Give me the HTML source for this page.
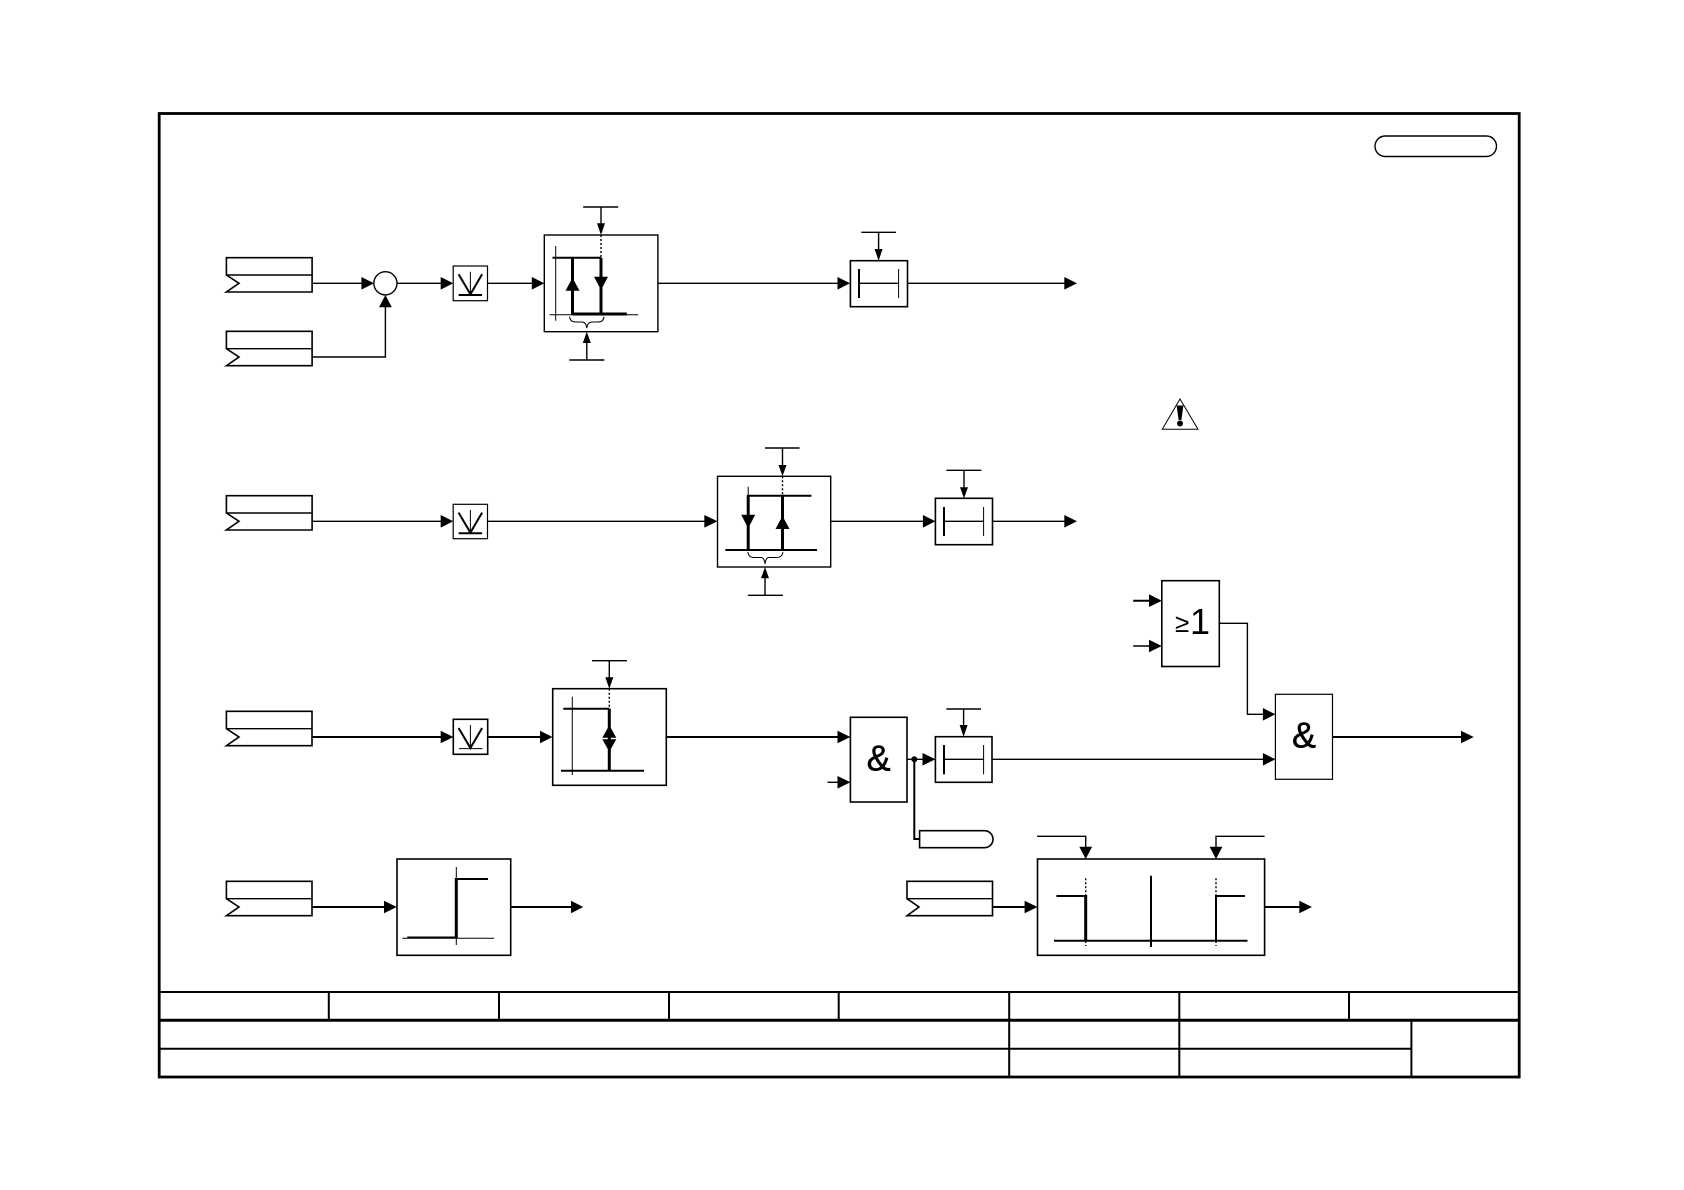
<!DOCTYPE html>
<html><head><meta charset="utf-8"><style>
html,body{margin:0;padding:0;background:#fff;width:1684px;height:1190px;overflow:hidden}
svg{display:block}
text{font-family:"Liberation Sans",Arial,Helvetica,sans-serif;fill:#000}
.l{stroke:#000;stroke-width:1.4;fill:none}
.m{stroke:#000;stroke-width:2;fill:none}
.t{stroke:#000;stroke-width:3;fill:none}
.h{stroke:#000;stroke-width:1;fill:none}
.d{stroke:#000;stroke-width:1.4;stroke-dasharray:2 2;fill:none}
.b{stroke:#000;stroke-width:1.6;fill:#fff}
.g{stroke:#000;stroke-width:.5}
</style></head><body>
<svg width="1684" height="1190" viewBox="0 0 1684 1190" xmlns="http://www.w3.org/2000/svg">
<rect width="1684" height="1190" fill="#fff"/>
<!-- frame -->
<rect x="159.2" y="113.5" width="1360" height="963.5" fill="none" stroke="#000" stroke-width="2.8"/>
<path class="m" d="M159 992H1519M159 1048.7H1411.4"/>
<path class="t" d="M159 1020.3H1519"/>
<path class="m" d="M328.8 992V1020M499 992V1020M669 992V1020M838.7 992V1020M1009.2 992V1077M1179.3 992V1077M1349 992V1020M1411.4 1020V1077"/>
<!-- pill -->
<rect x="1375" y="136" width="121.5" height="20.5" rx="10.2" fill="none" stroke="#000" stroke-width="1.4"/>
<!-- warning -->
<polygon points="1180,399 1162.3,429.3 1198,429.3" fill="none" stroke="#000" stroke-width="1"/>
<polygon points="1176.6,405.5 1183.4,405.5 1181.4,420 1178.6,420" fill="#000"/>
<circle cx="1180" cy="423.5" r="3" fill="#000"/>

<!-- ROW 1 -->
<path class="b" d="M226.4 257.7H312.1V292H226.4L239 283.3L226.4 275Z"/>
<path class="l" d="M226.4 275H312.1"/>
<path class="b" d="M226.4 331.3H312.1V365.7H226.4L239 357L226.4 348.7Z"/>
<path class="l" d="M226.4 348.7H312.1"/>
<path class="l" d="M312 283.3H362M312 357H385.4V306"/>
<polygon points="374,283.3 361.4,277 361.4,289.6" fill="#000"/>
<polygon points="385.4,295 379,307.3 391.8,307.3" fill="#000"/>
<circle cx="385.4" cy="283.3" r="11.6" fill="#fff" stroke="#000" stroke-width="1.4"/>
<path class="l" d="M397 283.3H442"/>
<polygon points="453.2,283.3 440.7,277 440.7,289.6" fill="#000"/>
<rect class="b" x="453.2" y="266" width="34.3" height="34.7" style="stroke-width:1.2"/>
<path class="m" d="M458.6 274.3L470.4 294.3L482.1 274.3M458.6 295H482.1"/>
<path class="h" d="M470.4 271.7V294"/>
<path class="l" d="M487.5 283.3H533"/>
<polygon points="544.3,283.3 531.8,277 531.8,289.6" fill="#000"/>
<rect class="b" x="544.3" y="235" width="113.6" height="96.7" style="stroke-width:1.4"/>
<path class="l" d="M583.2 207H618.2M601 207V224"/>
<polygon points="601,235 597,223.3 605,223.3" fill="#000"/>
<path class="d" d="M601 235V257"/>
<path class="h" d="M555.7 246V320.7M549.6 314.7H638.2"/>
<path class="m" d="M552.5 257.7H601"/>
<path class="t" d="M572.5 257.7V314.3M601 257.7V314.3M572.5 314H626.8"/>
<polygon points="572.5,277.7 565.5,290.7 579.5,290.7" fill="#000"/>
<polygon points="601,290 594,276.7 608,276.7" fill="#000"/>
<path class="h" d="M569.6 316.7Q570 322 576 322H582Q586 322 586.8 328Q587.6 322 592 322H598Q603.6 322 604 316.7"/>
<path class="l" d="M569.3 360H604.3M586.8 360V342"/>
<polygon points="586.8,331.7 582.8,343 590.8,343" fill="#000"/>
<path class="l" d="M657.9 283.3H839"/>
<polygon points="850,283.3 837.5,277 837.5,289.6" fill="#000"/>
<rect class="b" x="850.4" y="260.7" width="57.1" height="46"/>
<path class="m" d="M859 269V298"/>
<path class="h" d="M898.6 269V298"/>
<path class="l" d="M859 283.3H898.6"/>
<path class="l" d="M861.4 232.3H896M878.6 232.3V250"/>
<polygon points="878.6,260.7 874.6,249 882.6,249" fill="#000"/>
<path class="l" d="M907.5 283.3H1066"/>
<polygon points="1077,283.3 1064.3,277 1064.3,289.6" fill="#000"/>

<!-- ROW 2 -->
<path class="b" d="M226.4 495.7H312.1V530H226.4L239 521.3L226.4 513Z"/>
<path class="l" d="M226.4 513H312.1"/>
<path class="l" d="M312 521.3H442"/>
<polygon points="453.2,521.3 440.7,515 440.7,527.6" fill="#000"/>
<rect class="b" x="453.2" y="504.3" width="34.3" height="34.4" style="stroke-width:1.2"/>
<path class="m" d="M458.6 512.6L470.4 532.6L482.1 512.6M458.6 533.3H482.1"/>
<path class="h" d="M470.4 510V532"/>
<path class="l" d="M487.5 521.3H706"/>
<polygon points="717.5,521.3 704.3,515 704.3,527.6" fill="#000"/>
<rect class="b" x="717.5" y="476.3" width="113.2" height="90.7" style="stroke-width:1.4"/>
<path class="l" d="M765 448H799.6M782.5 448V466"/>
<polygon points="782.5,476.3 778.5,465 786.5,465" fill="#000"/>
<path class="d" d="M782.5 476.3V495.7"/>
<path class="h" d="M748.2 486.7V496"/>
<path class="m" d="M748.2 495.7H811.4M725.4 550H817"/>
<path class="t" d="M748.2 495V550M782.5 495V550"/>
<polygon points="748.2,528.3 741.2,514.7 755.2,514.7" fill="#000"/>
<polygon points="782.5,516 775.5,529 789.5,529" fill="#000"/>
<path class="h" d="M747.9 552Q748.4 557.5 754 557.5H761Q764.2 557.5 765 564Q765.8 557.5 769 557.5H776Q782.4 557.5 782.9 552"/>
<path class="l" d="M747.9 595.3H782.9M765 595.3V577"/>
<polygon points="765,567 761,578.3 769,578.3" fill="#000"/>
<path class="l" d="M830.7 521.3H924"/>
<polygon points="935.4,521.3 922.9,515 922.9,527.6" fill="#000"/>
<rect class="b" x="935.4" y="498.3" width="57.1" height="46.4"/>
<path class="m" d="M944 507V536"/>
<path class="h" d="M983.6 507V536"/>
<path class="l" d="M944 521.3H983.6"/>
<path class="l" d="M946.4 470.3H981.4M964 470.3V488"/>
<polygon points="964,498.3 960,487.3 968,487.3" fill="#000"/>
<path class="l" d="M992.5 521.3H1066"/>
<polygon points="1077,521.3 1064.3,515 1064.3,527.6" fill="#000"/>

<!-- >=1 -->
<path class="m" d="M1133.2 600.7H1150"/>
<path class="l" d="M1133.2 646H1150"/>
<polygon points="1161.8,600.7 1149,594.3 1149,607" fill="#000"/>
<polygon points="1161.8,646 1149,639.7 1149,652.3" fill="#000"/>
<rect class="b" x="1161.8" y="580.7" width="57.5" height="85.8"/>
<text x="1175" y="632" font-size="26">≥</text>
<text x="1190" y="634" font-size="36">1</text>
<path class="l" d="M1219.3 623.3H1247.4V714.3H1264"/>
<polygon points="1275.4,714.3 1262.9,708 1262.9,720.6" fill="#000"/>

<!-- ROW 3 -->
<path class="b" d="M226.4 711.3H312V745.7H226.4L239 737L226.4 728.7Z"/>
<path class="l" d="M226.4 728.7H312"/>
<path class="m" d="M312 737H442"/>
<polygon points="453.3,737 440.7,730.7 440.7,743.3" fill="#000"/>
<rect class="b" x="453.3" y="719.3" width="34.4" height="35"/>
<path class="m" d="M458.6 728L470.4 748L482.1 728"/>
<path class="h" d="M470.4 725V748M459 748.6H482.5"/>
<path class="m" d="M487.7 737H542"/>
<polygon points="552.5,737 540,730.7 540,743.3" fill="#000"/>
<rect class="b" x="552.7" y="688.7" width="113.6" height="96.6"/>
<path class="l" d="M592 660.7H627M609.3 660.7V678"/>
<polygon points="609.3,688.7 605.3,677.3 613.3,677.3" fill="#000"/>
<path class="d" d="M609.3 688.7V708.7"/>
<path class="m" d="M563.3 708.7H609.3M561 770.7H644"/>
<path class="h" d="M572.3 696.7V775"/>
<path class="t" d="M609.3 708.7V770.7"/>
<polygon points="609.3,725.3 602.3,737.7 616.3,737.7" fill="#000"/>
<polygon points="609.3,751.7 602.3,739.3 616.3,739.3" fill="#000"/>
<path class="m" d="M666.3 737H839"/>
<polygon points="850.4,737 837.5,730.7 837.5,743.3" fill="#000"/>
<path class="l" d="M827.5 782.3H840"/>
<polygon points="850.4,782.3 837.5,776 837.5,788.6" fill="#000"/>
<rect class="b" x="850.4" y="717.3" width="56.6" height="84.7"/>
<text class="g" x="878.6" y="770.5" font-size="36" text-anchor="middle">&amp;</text>
<path class="l" d="M907 759.3H924"/>
<circle cx="914.3" cy="759.3" r="3" fill="#000"/>
<polygon points="935.4,759.3 922.5,753 922.5,765.6" fill="#000"/>
<path class="m" d="M914.3 759.3V839H920"/>
<path class="b" d="M919.6 830.7H984.5A8.5 8.5 0 0 1 984.5 847.7H919.6Z"/>
<rect class="b" x="935.4" y="736.7" width="56.6" height="45.6"/>
<path class="m" d="M944 745V774.3"/>
<path class="h" d="M983.6 745V774.3"/>
<path class="l" d="M944 759.3H983.6"/>
<path class="l" d="M946.4 709H981M963.6 709V726"/>
<polygon points="963.6,736.7 959.6,725 967.6,725" fill="#000"/>
<path class="l" d="M992 759.3H1264"/>
<polygon points="1275.4,759.3 1262.9,753 1262.9,765.6" fill="#000"/>
<rect class="b" x="1275.4" y="694.3" width="57.1" height="85" style="stroke-width:1.2"/>
<text class="g" x="1304" y="747.5" font-size="36" text-anchor="middle">&amp;</text>
<path class="m" d="M1332.5 737H1462"/>
<polygon points="1473.7,737 1461,730.7 1461,743.3" fill="#000"/>

<!-- ROW 4 left -->
<path class="b" d="M226.4 881.3H312V915.7H226.4L239 907L226.4 898.7Z"/>
<path class="l" d="M226.4 898.7H312"/>
<path class="m" d="M312 907H386"/>
<polygon points="396.7,907 384,900.7 384,913.3" fill="#000"/>
<rect class="b" x="397" y="859" width="113.7" height="96.3"/>
<path class="h" d="M456.3 867V945M402.3 938.3H494"/>
<path class="m" d="M456.3 879H488M407.3 937.5H457"/>
<path class="t" d="M456.3 878V938"/>
<path class="m" d="M510.7 907H572"/>
<polygon points="583.3,907 571,900.7 571,913.3" fill="#000"/>

<!-- ROW 4 right -->
<path class="b" d="M907 881.3H992.5V915.7H907L919 907L907 898.7Z"/>
<path class="l" d="M907 898.7H992.5"/>
<path class="m" d="M992.5 907H1026"/>
<polygon points="1037.5,907 1024.6,900.7 1024.6,913.3" fill="#000"/>
<rect class="b" x="1037.5" y="859" width="227.1" height="96.3"/>
<path class="l" d="M1037 836.3H1085.7V848"/>
<path class="l" d="M1264.6 836.3H1216V848"/>
<polygon points="1085.7,859 1079.3,846.7 1092.1,846.7" fill="#000"/>
<polygon points="1216,859 1209.6,846.7 1222.4,846.7" fill="#000"/>
<path class="m" d="M1054 940.7H1247.5M1056.4 896H1085.7M1216 896H1245M1151 875.7V947"/>
<path class="t" d="M1085.7 895V941"/>
<path class="m" d="M1216 895V941"/>
<path class="d" d="M1085.7 878.3V896M1085.7 941V946M1216 878.3V896M1216 941V946"/>
<path class="m" d="M1264.6 907H1300"/>
<polygon points="1312,907 1299.3,900.7 1299.3,913.3" fill="#000"/>
</svg>
</body></html>
